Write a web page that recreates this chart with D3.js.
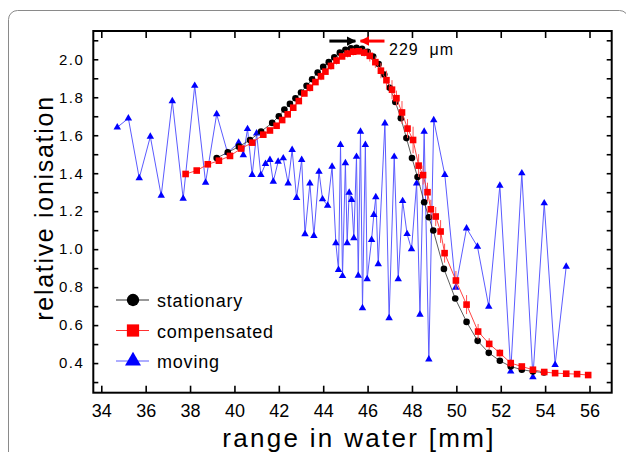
<!DOCTYPE html>
<html>
<head>
<meta charset="utf-8">
<script src="https://cdn.jsdelivr.net/npm/d3@7"></script>
<style>
  body { margin: 0; background: #fff; }
  svg { display: block; font-family: "Liberation Sans", Arial, sans-serif; }
</style>
</head>
<body>
<svg width="626" height="452"></svg>
<script>
// stationary beam (black circles): range [mm], relative ionisation
const statX = [39.2, 39.7, 40.2, 40.7, 41.2, 41.7, 42.0, 42.25, 42.5, 42.75, 43.0, 43.25, 43.5, 43.75,
  44.0, 44.25, 44.5, 44.75, 45.0, 45.25, 45.5, 45.75, 46.0, 46.25, 46.5, 46.75, 47.0, 47.25, 47.5,
  47.75, 48.0, 48.25, 48.55, 48.76, 48.96, 49.44, 49.95, 50.46, 50.96, 51.46, 51.96, 52.45, 52.95,
  53.45, 53.95];
const statY = [1.48, 1.51, 1.54, 1.575, 1.62, 1.665, 1.70, 1.735, 1.765, 1.795, 1.825, 1.86, 1.895, 1.93,
  1.96, 1.985, 2.01, 2.035, 2.05, 2.058, 2.06, 2.055, 2.04, 2.015, 1.975, 1.92, 1.85, 1.775, 1.69,
  1.585, 1.48, 1.38, 1.247, 1.168, 1.098, 0.896, 0.74, 0.617, 0.517, 0.454, 0.412, 0.382, 0.365,
  0.356, 0.35];

// compensated (red squares)
const compX = [37.8, 38.3, 38.8, 39.3, 39.8, 40.3, 40.8, 41.3, 41.6, 41.9, 42.15, 42.4, 42.65, 42.9,
  43.15, 43.4, 43.65, 43.9, 44.1, 44.35, 44.6, 44.85, 45.1, 45.35, 45.6, 45.85, 46.1, 46.35, 46.6,
  46.85, 47.1, 47.3, 47.55, 47.8, 48.05, 48.3, 48.5, 48.7, 48.85, 49.07, 49.29, 49.47, 49.98, 50.46,
  50.98, 51.48, 51.96, 52.45, 52.95, 53.45, 53.96, 54.45, 54.95, 55.44, 55.94];
const compY = [1.396, 1.414, 1.447, 1.466, 1.491, 1.53, 1.561, 1.603, 1.625, 1.65, 1.68, 1.71, 1.745, 1.78,
  1.82, 1.85, 1.88, 1.91, 1.935, 1.965, 1.993, 2.015, 2.03, 2.04, 2.042, 2.035, 2.018, 1.985, 1.94,
  1.89, 1.84, 1.795, 1.72, 1.635, 1.575, 1.44, 1.39, 1.30, 1.21, 1.172, 1.093, 0.979, 0.835, 0.708,
  0.566, 0.501, 0.453, 0.40, 0.382, 0.365, 0.353, 0.347, 0.344, 0.342, 0.337];
const compErr = [0, 0, 0, 0, 0, 0, 0, 0, 0, 0.01, 0, 0.01, 0, 0.01,
  0, 0.02, 0.01, 0.02, 0.01, 0.02, 0.02, 0.01, 0.02, 0.02, 0.01, 0.02, 0.03, 0.03, 0.04,
  0.05, 0.05, 0.04, 0.06, 0.05, 0.07, 0.06, 0.05, 0.05, 0.05, 0.05, 0.06, 0.05, 0.05, 0.05,
  0.04, 0.03, 0.02, 0.02, 0.01, 0.01, 0, 0, 0, 0, 0];

// moving target, no compensation (blue triangles)
const movX = [34.72, 35.22, 35.71, 36.21, 36.70, 37.20, 37.69, 38.21, 38.70, 39.20, 39.69, 40.19, 40.40,
  40.59, 40.80, 41.00, 41.19, 41.40, 41.60, 41.75, 41.97, 42.20, 42.42, 42.60, 42.80, 43.03, 43.18,
  43.40, 43.58, 43.81, 43.97, 44.20, 44.40, 44.57, 44.69, 44.78, 44.87, 45.00, 45.08, 45.17, 45.28,
  45.38, 45.50, 45.58, 45.68, 45.77, 45.90, 45.98, 46.18, 46.28, 46.37, 46.48, 46.78, 46.97, 47.20,
  47.38, 47.58, 47.78, 47.98, 48.21, 48.36, 48.55, 48.76, 48.98, 49.48, 49.97, 50.46, 50.95, 51.46,
  51.96, 52.45, 52.95, 53.45, 53.96, 54.45, 54.95];
const movY = [1.642, 1.689, 1.374, 1.593, 1.282, 1.780, 1.266, 1.861, 1.351, 1.711, 1.508, 1.561, 1.496,
  1.633, 1.391, 1.610, 1.391, 1.449, 1.470, 1.356, 1.461, 1.479, 1.347, 1.523, 1.270, 1.470, 1.079,
  1.347, 1.070, 1.408, 1.263, 1.230, 1.435, 1.032, 0.891, 1.549, 0.859, 1.453, 1.032, 1.298, 1.260,
  1.058, 1.487, 0.861, 1.619, 0.690, 1.549, 0.842, 1.049, 1.181, 1.274, 0.921, 1.663, 0.637, 1.487,
  0.842, 1.254, 1.080, 1.000, 1.347, 0.655, 1.619, 0.420, 1.680, 1.391, 0.798, 1.110, 1.014, 0.698,
  1.335, 0.356, 1.400, 0.326, 1.242, 0.391, 0.908];

const xTicks = [34, 36, 38, 40, 42, 44, 46, 48, 50, 52, 54, 56];
const yTicks = [0.4, 0.6, 0.8, 1.0, 1.2, 1.4, 1.6, 1.8, 2.0];
const yMinor = d3.range(3, 22).map(d => d / 10);

// peak positions for the shift annotation (229 um)
const peakStat = 45.45;
const peakComp = 45.68;

const svg = d3.select('svg');

// decorative rounded border around the figure
svg.append('rect')
  .attr('x', 8.5).attr('y', 10.5)
  .attr('width', 620).attr('height', 460)
  .attr('rx', 9)
  .attr('fill', 'none')
  .attr('stroke', '#8a8a8a');

const x = d3.scaleLinear().domain([33.64, 57.0]).range([93.3, 611.7]);
const y = d3.scaleLinear().domain([0.244, 2.149]).range([392.7, 31]);

const x0 = x.range()[0], x1 = x.range()[1];
const y0 = y.range()[0], y1 = y.range()[1];

// axes: ticks point inwards
const gx = svg.append('g').attr('transform', `translate(0,${y0})`)
  .call(d3.axisBottom(x).tickValues(xTicks).tickSizeInner(-7).tickSizeOuter(0).tickPadding(12));
gx.selectAll('text').attr('font-size', 18).attr('fill', '#000');

svg.append('g').attr('transform', `translate(0,${y1})`)
  .call(d3.axisTop(x).tickValues(xTicks).tickSizeInner(-7).tickSizeOuter(0).tickFormat(''));

const gy = svg.append('g').attr('transform', `translate(${x0},0)`)
  .call(d3.axisLeft(y).tickValues(yMinor).tickSizeInner(-5).tickSizeOuter(0).tickPadding(9)
    .tickFormat(d => yTicks.some(t => Math.abs(t - d) < 1e-6) ? d3.format('.1f')(d) : ''));
gy.selectAll('text').attr('font-size', 15).attr('letter-spacing', 1.5).attr('fill', '#000');

svg.append('g').attr('transform', `translate(${x1},0)`)
  .call(d3.axisRight(y).tickValues(yMinor).tickSizeInner(-5).tickSizeOuter(0).tickFormat(''));

svg.selectAll('.tick line').attr('stroke', '#000').attr('stroke-width', 1.6);
svg.selectAll('.domain').remove();

svg.append('rect')
  .attr('x', x0).attr('y', y1)
  .attr('width', x1 - x0).attr('height', y0 - y1)
  .attr('fill', 'none').attr('stroke', '#000').attr('stroke-width', 2);

const line = d3.line().x(d => x(d[0])).y(d => y(d[1]));

// moving
const mov = movX.map((d, i) => [d, movY[i]]);
svg.append('path').datum(mov)
  .attr('d', line).attr('fill', 'none')
  .attr('stroke', '#5b5bff').attr('stroke-width', 1);
svg.selectAll('.mov').data(mov).enter().append('path')
  .attr('class', 'mov')
  .attr('transform', d => `translate(${x(d[0])},${y(d[1])})`)
  .attr('d', d3.symbol(d3.symbolTriangle, 24))
  .attr('fill', '#0000ff');

// stationary
const stat = statX.map((d, i) => [d, statY[i]]);
svg.append('path').datum(stat)
  .attr('d', line).attr('fill', 'none')
  .attr('stroke', '#333').attr('stroke-width', 0.8);
svg.selectAll('.stat').data(stat).enter().append('circle')
  .attr('class', 'stat')
  .attr('cx', d => x(d[0])).attr('cy', d => y(d[1]))
  .attr('r', 3.3).attr('fill', '#000');

// compensated
const comp = compX.map((d, i) => [d, compY[i], compErr[i]]);
svg.append('path').datum(comp)
  .attr('d', line).attr('fill', 'none')
  .attr('stroke', '#ff3030').attr('stroke-width', 0.9);
svg.selectAll('.err').data(comp.filter(d => d[2] > 0)).enter().append('line')
  .attr('x1', d => x(d[0])).attr('x2', d => x(d[0]))
  .attr('y1', d => y(d[1] - d[2])).attr('y2', d => y(d[1] + d[2]))
  .attr('stroke', '#ff5050').attr('stroke-width', 1);
svg.selectAll('.comp').data(comp).enter().append('rect')
  .attr('class', 'comp')
  .attr('x', d => x(d[0]) - 3.3).attr('y', d => y(d[1]) - 3.3)
  .attr('width', 6.6).attr('height', 6.6)
  .attr('fill', '#ff0000');

// shift annotation
const ya = 2.096;
svg.append('defs').selectAll('marker')
  .data([['ahBlack', '#000'], ['ahRed', '#ff0000']]).enter().append('marker')
  .attr('id', d => d[0])
  .attr('viewBox', '0 0 10 10').attr('refX', 9).attr('refY', 5)
  .attr('markerWidth', 3.2).attr('markerHeight', 3.2)
  .attr('markerUnits', 'strokeWidth')
  .attr('orient', 'auto')
  .append('path').attr('d', 'M0,0L10,5L0,10z').attr('fill', d => d[1]);

svg.append('line')
  .attr('x1', x(peakStat) - 26).attr('x2', x(peakStat))
  .attr('y1', y(ya)).attr('y2', y(ya))
  .attr('stroke', '#000').attr('stroke-width', 3)
  .attr('marker-end', 'url(#ahBlack)');
svg.append('line')
  .attr('x1', x(peakComp) + 24).attr('x2', x(peakComp))
  .attr('y1', y(ya)).attr('y2', y(ya))
  .attr('stroke', '#ff0000').attr('stroke-width', 3)
  .attr('marker-end', 'url(#ahRed)');
svg.append('text')
  .attr('x', 389).attr('y', 55)
  .attr('font-size', 16).attr('letter-spacing', 1)
  .attr('xml:space', 'preserve')
  .text('229  μm');

// legend
const legend = [
  { label: 'stationary', type: 'circle', color: '#000', line: '#333' },
  { label: 'compensated', type: 'square', color: '#ff0000', line: '#ff3030' },
  { label: 'moving', type: 'triangle', color: '#0000ff', line: '#5b5bff' }
];
const lg = svg.append('g').selectAll('g').data(legend).enter().append('g')
  .attr('transform', (d, i) => `translate(116,${300 + i * 30.5})`);
lg.append('line').attr('x1', 0).attr('x2', 33)
  .attr('stroke', d => d.line).attr('stroke-width', 1);
lg.append('path')
  .attr('transform', 'translate(17,0)')
  .attr('d', d => d3.symbol(d.type === 'circle' ? d3.symbolCircle
    : d.type === 'square' ? d3.symbolSquare : d3.symbolTriangle,
    d.type === 'circle' ? 120 : d.type === 'square' ? 150 : 110)())
  .attr('fill', d => d.color);
lg.append('text')
  .attr('x', 41).attr('y', 7)
  .attr('font-size', 18).attr('letter-spacing', 0.8)
  .text(d => d.label);

// axis titles
svg.append('text')
  .attr('x', 359).attr('y', 447)
  .attr('text-anchor', 'middle')
  .attr('font-size', 26).attr('letter-spacing', 2.3)
  .text('range in water [mm]');
svg.append('text')
  .attr('transform', 'translate(53,208) rotate(-90)')
  .attr('text-anchor', 'middle')
  .attr('font-size', 25).attr('letter-spacing', 1.7)
  .text('relative ionisation');
</script>
</body>
</html>
